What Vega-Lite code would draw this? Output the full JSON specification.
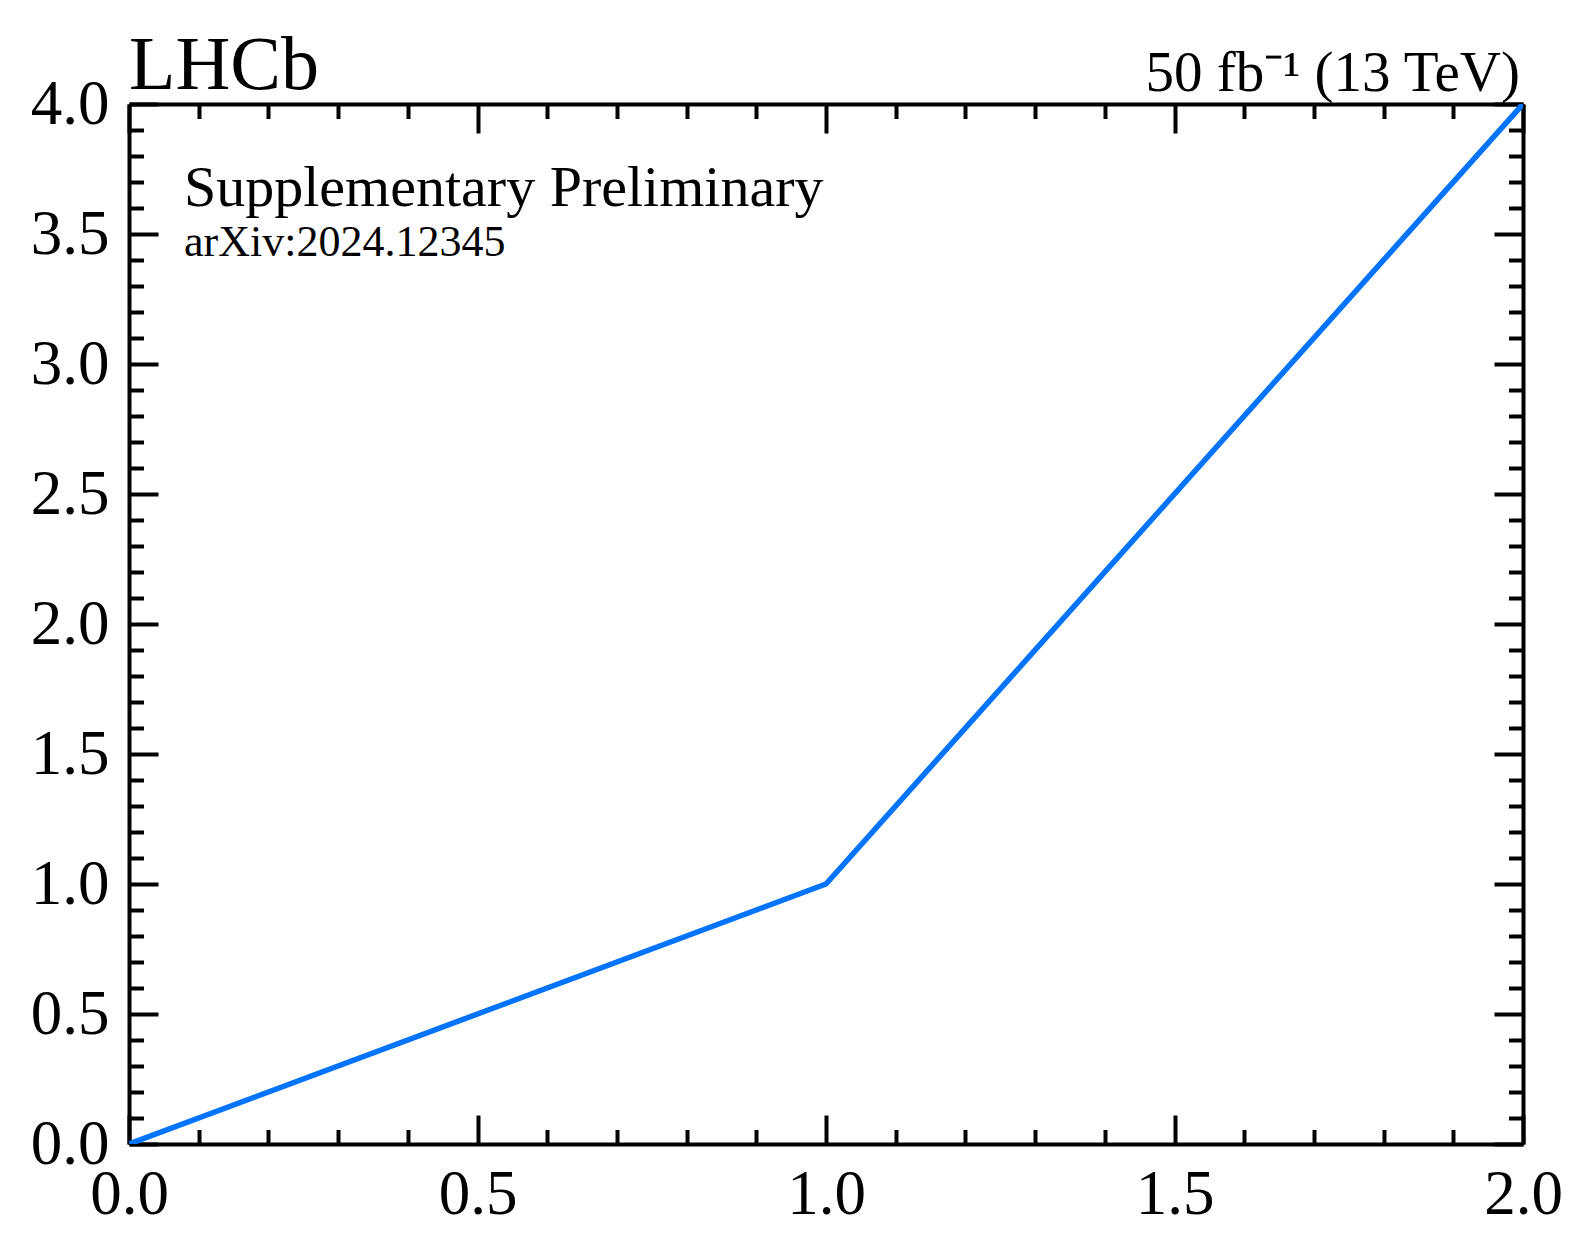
{
  "$schema": "https://vega.github.io/schema/vega-lite/v6.json",
  "width": 1394,
  "height": 1040,
  "autosize": "none",
  "padding": {"left": 129, "top": 104, "right": 69, "bottom": 114},
  "background": "white",
  "config": {
    "view": {"stroke": null},
    "font": "Liberation Serif",
    "axis": {
      "grid": false,
      "domainColor": "black",
      "domainWidth": 4,
      "tickColor": "black",
      "tickWidth": 4,
      "labelFont": "Liberation Serif",
      "labelFontSize": 63,
      "labelColor": "black",
      "labelFlush": false,
      "labelOverlap": false,
      "title": null
    }
  },
  "data": {"values": [{"x": 0, "y": 0}, {"x": 1, "y": 1}, {"x": 2, "y": 4}]},
  "layer": [
    {
      "mark": {"type": "line", "color": "#0073ff", "strokeWidth": 5.5, "clip": true},
      "encoding": {
        "x": {
          "field": "x", "type": "quantitative",
          "scale": {"domain": [0, 2], "nice": false},
          "axis": {
            "orient": "bottom",
            "values": [0,0.1,0.2,0.3,0.4,0.5,0.6,0.7,0.8,0.9,1,1.1,1.2,1.3,1.4,1.5,1.6,1.7,1.8,1.9,2],
            "tickSize": {"condition": {"test": "abs(round(datum.value*10)) % 5 === 0", "value": -29}, "value": -14.5},
            "labelExpr": "abs(round(datum.value*10)) % 5 === 0 ? format(datum.value, '.1f') : ''",
            "labelPadding": 48
          }
        },
        "y": {
          "field": "y", "type": "quantitative",
          "scale": {"domain": [0, 4], "nice": false},
          "axis": {
            "orient": "left",
            "values": [0,0.1,0.2,0.3,0.4,0.5,0.6,0.7,0.8,0.9,1,1.1,1.2,1.3,1.4,1.5,1.6,1.7,1.8,1.9,2,2.1,2.2,2.3,2.4,2.5,2.6,2.7,2.8,2.9,3,3.1,3.2,3.3,3.4,3.5,3.6,3.7,3.8,3.9,4],
            "tickSize": {"condition": {"test": "abs(round(datum.value*10)) % 5 === 0", "value": -29}, "value": -14.5},
            "labelExpr": "abs(round(datum.value*10)) % 5 === 0 ? format(datum.value, '.1f') : ''",
            "labelPadding": 49
          }
        }
      }
    },
    {
      "mark": {"type": "point", "opacity": 0},
      "encoding": {
        "x": {
          "field": "x", "type": "quantitative",
          "scale": {"domain": [0, 2], "nice": false},
          "axis": {
            "orient": "top",
            "values": [0,0.1,0.2,0.3,0.4,0.5,0.6,0.7,0.8,0.9,1,1.1,1.2,1.3,1.4,1.5,1.6,1.7,1.8,1.9,2],
            "tickSize": {"condition": {"test": "abs(round(datum.value*10)) % 5 === 0", "value": -29}, "value": -14.5},
            "labels": false
          }
        },
        "y": {
          "field": "y", "type": "quantitative",
          "scale": {"domain": [0, 4], "nice": false},
          "axis": {
            "orient": "right",
            "values": [0,0.1,0.2,0.3,0.4,0.5,0.6,0.7,0.8,0.9,1,1.1,1.2,1.3,1.4,1.5,1.6,1.7,1.8,1.9,2,2.1,2.2,2.3,2.4,2.5,2.6,2.7,2.8,2.9,3,3.1,3.2,3.3,3.4,3.5,3.6,3.7,3.8,3.9,4],
            "tickSize": {"condition": {"test": "abs(round(datum.value*10)) % 5 === 0", "value": -29}, "value": -14.5},
            "labels": false
          }
        }
      }
    },
    {
      "data": {"values": [{"label": "LHCb"}]},
      "mark": {"type": "text", "align": "left", "baseline": "alphabetic", "fontSize": 76, "dy": -15, "color": "black"},
      "encoding": {"x": {"datum": 0, "axis": null}, "y": {"datum": 4, "axis": null}, "text": {"field": "label"}}
    },
    {
      "data": {"values": [{"label": "50 fb⁻¹ (13 TeV)"}]},
      "mark": {"type": "text", "align": "right", "baseline": "alphabetic", "fontSize": 57, "dy": -13, "dx": -3, "color": "black"},
      "encoding": {"x": {"datum": 2, "axis": null}, "y": {"datum": 4, "axis": null}, "text": {"field": "label"}}
    },
    {
      "data": {"values": [{"label": "Supplementary Preliminary"}]},
      "mark": {"type": "text", "align": "left", "baseline": "alphabetic", "fontSize": 58, "dx": 55, "dy": 102, "color": "black"},
      "encoding": {"x": {"datum": 0, "axis": null}, "y": {"datum": 4, "axis": null}, "text": {"field": "label"}}
    },
    {
      "data": {"values": [{"label": "arXiv:2024.12345"}]},
      "mark": {"type": "text", "align": "left", "baseline": "alphabetic", "fontSize": 44, "dx": 55, "dy": 152, "color": "black"},
      "encoding": {"x": {"datum": 0, "axis": null}, "y": {"datum": 4, "axis": null}, "text": {"field": "label"}}
    }
  ],
  "resolve": {"axis": {"x": "independent", "y": "independent"}}
}
